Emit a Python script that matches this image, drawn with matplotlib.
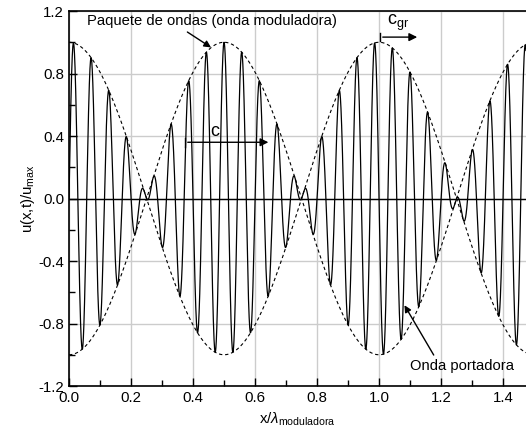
import numpy as np
import matplotlib.pyplot as plt
from matplotlib.ticker import MultipleLocator

plt.rcParams['font.family'] = ['Liberation Sans', 'DejaVu Sans']
plt.rcParams['mathtext.fontset'] = 'custom'
plt.rcParams['mathtext.rm'] = 'Liberation Sans'
plt.rcParams['mathtext.it'] = 'Liberation Sans:italic'

# wave packet (x in units of the modulating wavelength)
k_mod = 1.0        # modulating wave: cycles per lambda_mod
k_carrier = 17.5   # carrier wave: cycles per lambda_mod
phase_carrier = -np.pi / 2
x_max = 1.474

x = np.linspace(0, x_max, 6000)
envelope = np.cos(2 * np.pi * k_mod * x)
u = envelope * np.cos(2 * np.pi * k_carrier * x + phase_carrier)

fig = plt.figure(figsize=(5.26, 4.46), dpi=100)
ax = fig.add_axes([0.1312, 0.1345, 0.8688, 0.8408])

ax.plot(x, u, color='black', lw=0.9)
ax.plot(x, envelope, color='black', lw=0.8, ls=(0, (3, 2.5)))
ax.plot(x, -envelope, color='black', lw=0.8, ls=(0, (3, 2.5)))
ax.axhline(0, color='black', lw=1.0)

ax.set_xlim(0, x_max)
ax.set_ylim(-1.2, 1.2)
ax.xaxis.set_major_locator(MultipleLocator(0.2))
ax.xaxis.set_minor_locator(MultipleLocator(0.1))
ax.yaxis.set_major_locator(MultipleLocator(0.4))
ax.yaxis.set_minor_locator(MultipleLocator(0.2))
ax.tick_params(which='major', direction='in', length=6, width=1, labelsize=10.8)
ax.tick_params(which='minor', direction='in', length=4, width=1)
ax.set_xticks(np.arange(0, 1.41, 0.2))
ax.set_xticklabels(['0.0', '0.2', '0.4', '0.6', '0.8', '1.0', '1.2', '1.4'])
ax.set_yticks(np.arange(-1.2, 1.21, 0.4))
ax.set_yticklabels(['-1.2', '-0.8', '-0.4', '0.0', '0.4', '0.8', '1.2'])
ax.grid(True, which='major', color='#cccccc', lw=1.0)
ax.set_axisbelow(True)
ax.spines['right'].set_visible(False)
for s in ['left', 'bottom', 'top']:
    ax.spines[s].set_linewidth(1.2)

ax.set_xlabel(r'x/$\lambda_{\mathrm{moduladora}}$', fontsize=10.8, labelpad=4)
ax.set_ylabel(r'u(x,t)/u$_{\mathrm{max}}$', fontsize=10.8, labelpad=1)

arrow = dict(arrowstyle='-|>', color='black', lw=1.0, mutation_scale=12)
ax.annotate('Paquete de ondas (onda moduladora)', xy=(0.458, 0.967),
            xytext=(0.058, 1.133), fontsize=10.6, va='center', arrowprops=dict(
                arrowstyle='-|>', color='black', lw=1.0, mutation_scale=10,
                relpos=(0.38, 0.0), shrinkA=1, shrinkB=0))
ax.annotate('', xy=(0.652, 0.36), xytext=(0.374, 0.36), arrowprops=arrow)
ax.plot([0.374, 0.374], [0.33, 0.39], color='black', lw=1.0)
ax.text(0.471, 0.43, 'c', fontsize=13, ha='center', va='center')
ax.annotate('', xy=(1.132, 1.033), xytext=(1.003, 1.033), arrowprops=arrow)
ax.plot([1.003, 1.003], [1.005, 1.06], color='black', lw=1.0)
ax.text(1.026, 1.125, r'c$_{\mathrm{gr}}$', fontsize=13, ha='left', va='center')
ax.annotate('Onda portadora', xy=(1.082, -0.683), xytext=(1.1, -1.072),
            fontsize=10.6, va='center', arrowprops=dict(
                arrowstyle='-|>', color='black', lw=1.0, mutation_scale=10,
                relpos=(0.25, 1.0), shrinkA=1, shrinkB=0))

fig.savefig('out.png', dpi=100)
